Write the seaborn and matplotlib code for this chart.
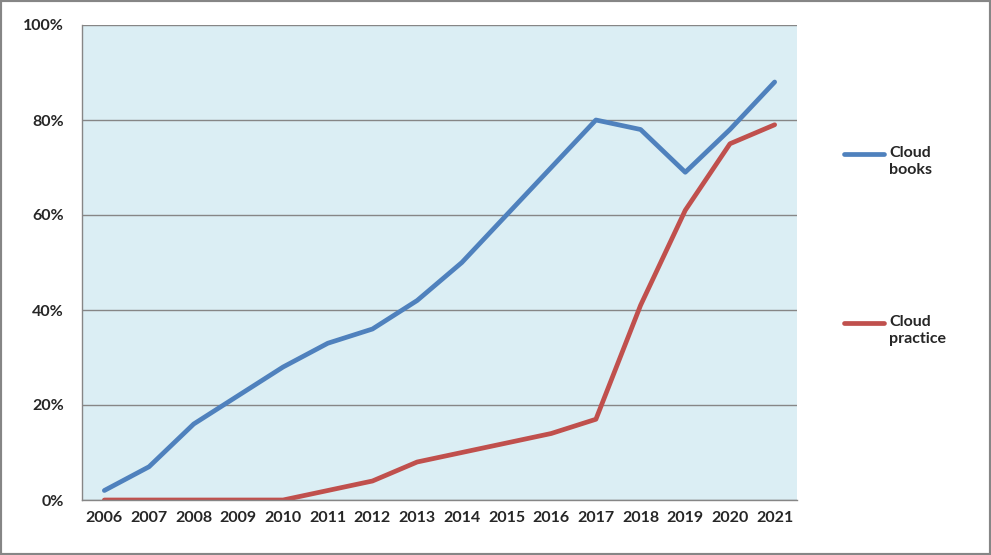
import numpy as np
import pandas as pd
import matplotlib
matplotlib.use("Agg")
import matplotlib.pyplot as plt
from matplotlib.lines import Line2D
from matplotlib.patches import Rectangle
from matplotlib.ticker import FuncFormatter
import seaborn as sns

years = [2006, 2007, 2008, 2009, 2010, 2011, 2012, 2013,
         2014, 2015, 2016, 2017, 2018, 2019, 2020, 2021]
cloud_books = [2, 7, 16, 22, 28, 33, 36, 42, 50, 60, 70, 80, 78, 69, 78, 88]
cloud_practice = [0, 0, 0, 0, 0, 2, 4, 8, 10, 12, 14, 17, 41, 61, 75, 79]
series_names = ["Cloud\nbooks", "Cloud\npractice"]
colors = ["#4F81BD", "#C0504D"]

df = pd.DataFrame({
    "pos": list(range(len(years))) * 2,
    "value": cloud_books + cloud_practice,
    "series": [series_names[0]] * len(years) + [series_names[1]] * len(years),
})

sns.set_style("white")
plt.rcParams["font.family"] = ["Lato", "DejaVu Sans"]
plt.rcParams["font.weight"] = "bold"

fig = plt.figure(figsize=(9.91, 5.55), dpi=100)
ax = fig.add_axes([82 / 991, 55 / 555, (797 - 82) / 991, (500 - 25) / 555])
ax.set_facecolor("#DBEEF4")

sns.lineplot(data=df, x="pos", y="value", hue="series", palette=colors,
             linewidth=3.4, legend=False, ax=ax, solid_capstyle="round")

ax.set_xlim(-0.5, len(years) - 0.5)
ax.set_ylim(0, 100)
ax.set_yticks(range(0, 101, 20))
ax.yaxis.set_major_formatter(FuncFormatter(lambda v, p: f"{int(v)}%"))
ax.grid(axis="y", color="#868686", linewidth=1)
ax.set_axisbelow(True)

ax.set_xticks(np.arange(-0.5, len(years), 1.0))
ax.set_xticklabels([])
ax.set_xticks(range(len(years)), minor=True)
ax.set_xticklabels([str(y) for y in years], minor=True)
ax.tick_params(axis="x", which="major", length=5, color="#868686", direction="out")
ax.tick_params(axis="x", which="minor", length=0, pad=8, labelsize=11.5)
ax.tick_params(axis="y", length=5, color="#868686", direction="out", pad=8, labelsize=11.5)
for lab in ax.get_xticklabels(minor=True) + ax.get_yticklabels():
    lab.set_fontweight("bold")

for side in ["top", "right"]:
    ax.spines[side].set_visible(False)
for side in ["left", "bottom"]:
    ax.spines[side].set_color("#868686")
    ax.spines[side].set_linewidth(1)
ax.set_xlabel("")
ax.set_ylabel("")

# legend entries placed to the right
legend_y = [154, 323]
for name, col, ly in zip(series_names, colors, legend_y):
    yf = 1 - ly / 555
    fig.add_artist(Line2D([844 / 991, 884 / 991], [yf, yf], color=col,
                          linewidth=3.4, solid_capstyle="round",
                          transform=fig.transFigure))
    fig.text(889 / 991, yf + 8 / 555, name, ha="left", va="top",
             fontsize=11.5, fontweight="bold", linespacing=1.3)

fig.add_artist(Rectangle((0, 0), 1, 1, transform=fig.transFigure,
                         fill=False, edgecolor="#868686", linewidth=3))

fig.savefig("out.png", dpi=100)
